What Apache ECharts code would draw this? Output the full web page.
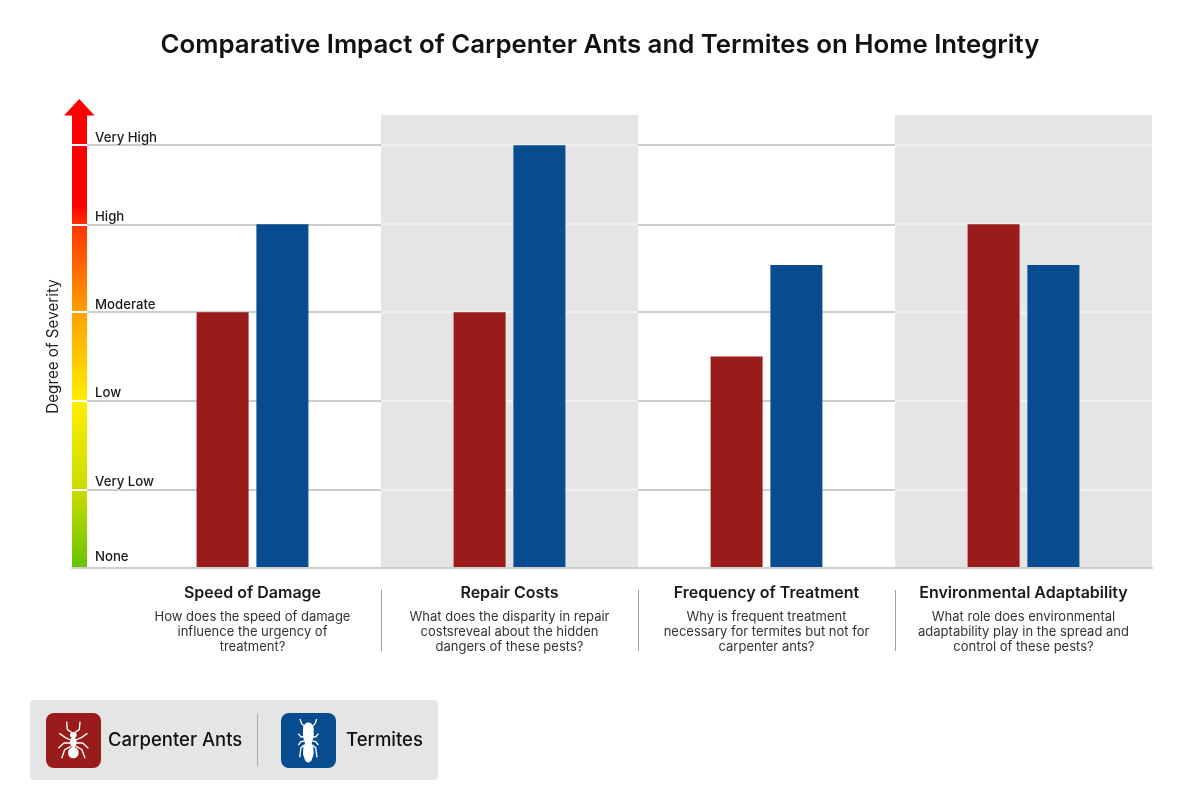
<!DOCTYPE html>
<html><head><meta charset="utf-8">
<style>html,body{margin:0;padding:0;background:#fff}#c{width:1200px;height:800px}</style>
<script src="https://cdn.jsdelivr.net/npm/echarts@6/dist/echarts.min.js"></script>
</head><body><div id="c"></div>
<script>
var FONT = 'Inter, "Noto Sans", sans-serif';
var categories = ['Speed of Damage','Repair Costs','Frequency of Treatment','Environmental Adaptability'];
var questions = [
  ['How does the speed of damage','influence the urgency of','treatment?'],
  ['What does the disparity in repair','costsreveal about the hidden','dangers of these pests?'],
  ['Why is frequent treatment','necessary for termites but not for','carpenter ants?'],
  ['What role does environmental','adaptability play in the spread and','control of these pests?']
];
var levelNames  = ['None','Very Low','Low','Moderate','High','Very High'];
var levelValues = [0,0.88,1.88,2.88,3.87,4.76];
var axisMax = 5.1;
var carpenterAnts = [2.88,2.88,2.38,3.87];
var termites      = [3.87,4.76,3.41,3.41];
var shadedCategories = ['Repair Costs','Environmental Adaptability'];
var separatorsAfter = [1,2,3];

var ICON_ANT = [
 [[95,82],[82,74],[80,50]],[[105,82],[118,74],[120,50]],
 [[92,105],[75,97],[58,85]],[[108,105],[125,97],[142,85]],
 [[92,114],[72,114],[55,130]],[[108,114],[128,114],[145,130]],
 [[92,124],[74,134],[65,160]],[[108,124],[126,134],[135,160]]
];
var ICON_TERM = [
 [[90,66],[80,56],[75,42]],[[110,66],[120,56],[125,42]],
 [[88,95],[78,96],[70,86]],[[112,95],[122,96],[130,86]],
 [[88,108],[78,110],[70,120]],[[112,108],[122,110],[130,120]],
 [[88,120],[78,128],[74,157]],[[112,120],[122,128],[126,157]]
];
var TERMITE_BODY = [[100,52],[110,56],[116,68],[116,95],[110,115],[115,125],[116,148],[109,168],[100,173],[91,168],[84,148],[85,125],[90,115],[84,95],[84,68],[90,56]];
function strokes(list){return list.map(function(p){return {type:'polyline',shape:{points:p},style:{fill:null,stroke:'#fff',lineWidth:4}};});}
function blob(cx,cy,rx,ry){return {type:'circle',x:cx,y:cy,scaleX:rx,scaleY:ry,shape:{cx:0,cy:0,r:1},style:{fill:'#fff'}};}

var chart = echarts.init(document.getElementById('c'));
var seps = separatorsAfter.map(function(i){var x=124.5+257*i;return {type:'line',shape:{x1:x,y1:590,x2:x,y2:651},style:{stroke:'#a0a0a0',lineWidth:1}};});
var rich = {
  h:{fontFamily:FONT,fontSize:16,fontWeight:600,color:'#1a1a1a',lineHeight:24,padding:[0,0,10,0]},
  q:{fontFamily:FONT,fontSize:13,color:'#333',lineHeight:15}
};
chart.setOption({
  animation:false,
  backgroundColor:'#fff',
  title:{text:'Comparative Impact of Carpenter Ants and Termites on Home Integrity',left:'center',top:27,
    textStyle:{fontFamily:FONT,fontSize:25.8,fontWeight:600,color:'#111'}},
  grid:[
    {left:72,top:115,width:1080,height:453},
    {left:124,top:115,width:1028,height:453},
    {left:72,top:115,width:15,height:453}
  ],
  xAxis:[
    {gridIndex:0,type:'value',min:0,max:1,z:6,axisLine:{show:true,lineStyle:{color:'#cdcdcd',width:2}},axisTick:{show:false},axisLabel:{show:false},splitLine:{show:false}},
    {gridIndex:1,type:'category',data:categories,axisLine:{show:false},axisTick:{show:false},
      axisLabel:{interval:0,margin:18,formatter:function(v,i){return '{h|'+v+'}\n'+questions[i].map(function(l){return '{q|'+l+'}';}).join('\n');},rich:rich}},
    {gridIndex:2,type:'category',data:['Severity'],show:false}
  ],
  yAxis:[
    {gridIndex:0,type:'value',min:0,max:axisMax,
      name:'Degree of Severity',nameLocation:'middle',nameGap:11,nameRotate:90,
      nameTextStyle:{fontFamily:FONT,fontSize:15.2,color:'#222',padding:[0,10,0,0]},
      axisLine:{show:false},
      axisTick:{show:false,customValues:levelValues},
      splitLine:{show:true,lineStyle:{color:'#cdcdcd',width:2}},
      axisLabel:{inside:true,margin:23,verticalAlign:'bottom',customValues:levelValues,
        fontFamily:FONT,fontSize:13.2,fontWeight:500,color:'#1a1a1a',
        rich:{n:{fontFamily:FONT,fontSize:13.2,fontWeight:500,color:'#1a1a1a',padding:[0,0,4,0]},
              m:{fontFamily:FONT,fontSize:13.2,fontWeight:500,color:'#1a1a1a',padding:[0,0,1,0]}},
        formatter:function(v){var n=levelNames[levelValues.indexOf(v)]||'';return (v===0?'{n|':'{m|')+n+'}';}}},
    {gridIndex:1,type:'value',min:0,max:axisMax,show:false},
    {gridIndex:2,type:'value',min:0,max:axisMax,z:5,axisLine:{show:false},axisLabel:{show:false},
      axisTick:{show:false,customValues:levelValues.slice(1)},
      splitLine:{show:true,lineStyle:{color:'#fff',width:2}}}
  ],
  series:[
    {type:'custom',xAxisIndex:1,yAxisIndex:1,z:1,silent:true,coordinateSystem:'cartesian2d',
      data:shadedCategories.map(function(c){return [c];}),encode:{x:0},
      renderItem:function(p,api){
        var idx=api.value(0);
        var w=api.size([1,0])[0], c=api.coord([idx,0]), t=api.coord([idx,axisMax]);
        var kids=[{type:'rect',shape:{x:c[0]-w/2,y:t[1],width:w,height:c[1]-t[1]},style:{fill:'#e5e5e5'}}];
        levelValues.slice(1).forEach(function(v){
          var y=api.coord([idx,v])[1];
          kids.push({type:'rect',shape:{x:c[0]-w/2,y:y-1,width:w,height:2},style:{fill:'#f1f1f1'}});
        });
        return {type:'group',children:kids};
      }},
    {name:'Carpenter Ants',type:'bar',xAxisIndex:1,yAxisIndex:1,z:3,data:carpenterAnts,barWidth:52,barGap:'15%',itemStyle:{color:'#9a1c1a'}},
    {name:'Termites',type:'bar',xAxisIndex:1,yAxisIndex:1,z:3,data:termites,barWidth:52,barGap:'15%',itemStyle:{color:'#074c8e'}},
    {type:'bar',xAxisIndex:2,yAxisIndex:2,z:2,silent:true,data:[axisMax],barWidth:15,
      itemStyle:{color:new echarts.graphic.LinearGradient(0,0,0,1,[
        {offset:0,color:'#ff0000'},{offset:0.2,color:'#ff0000'},{offset:0.24,color:'#ff3300'},
        {offset:0.435,color:'#ffa000'},{offset:0.63,color:'#ffee00'},{offset:0.83,color:'#c8dc00'},{offset:1,color:'#66c400'}])}}
  ],
  graphic:[
    {type:'polygon',shape:{points:[[64,115.5],[94.5,115.5],[79.3,99]]},style:{fill:'#ff0000'}}
  ].concat(seps).concat([
    {type:'rect',shape:{x:30,y:700,width:408,height:80,r:4},style:{fill:'#e5e5e5'}},
    {type:'rect',shape:{x:46,y:713,width:55,height:55,r:8},style:{fill:'#9a1c1a'}},
    {type:'rect',shape:{x:281,y:713,width:55,height:55,r:8},style:{fill:'#074c8e'}},
    {type:'line',shape:{x1:257.5,y1:714,x2:257.5,y2:766},style:{stroke:'#aaa',lineWidth:1}},
    {type:'text',x:108,y:740,style:{text:'Carpenter Ants',font:'500 18.5px '+FONT,fill:'#111',textVerticalAlign:'middle'}},
    {type:'text',x:346,y:740,style:{text:'Termites',font:'500 18.5px '+FONT,fill:'#111',textVerticalAlign:'middle'}},
    {type:'group',x:40,y:705,scaleX:1/3,scaleY:1/3,children:strokes(ICON_ANT).concat([
      blob(100,90,10,9),blob(100,112,10,16),blob(100,143,16,17)
    ])},
    {type:'group',x:275,y:705,scaleX:1/3,scaleY:1/3,children:strokes(ICON_TERM).concat([
      {type:'polygon',shape:{points:TERMITE_BODY},style:{fill:'#fff'}}
    ])}
  ])
});
</script></body></html>
